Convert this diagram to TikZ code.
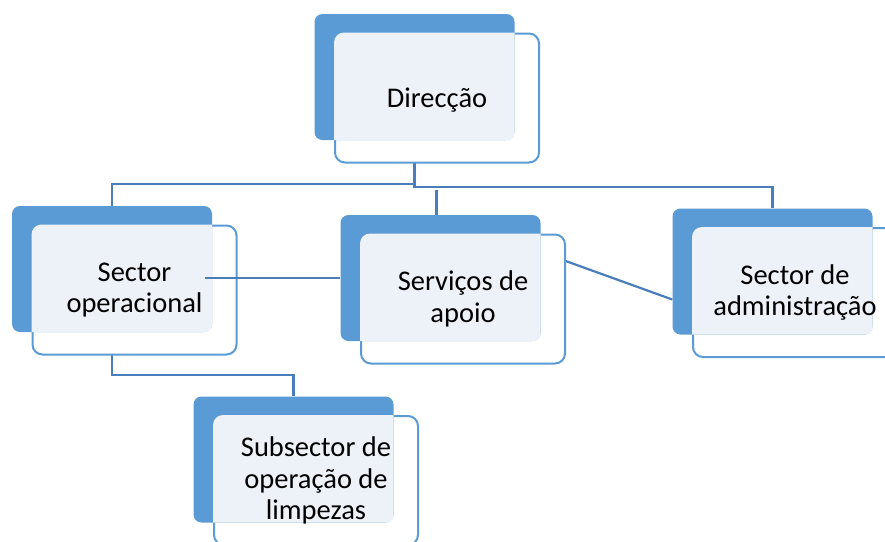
\documentclass[tikz,border=0pt]{standalone}
\usepackage{fontspec}
\setmainfont{Carlito}
\usetikzlibrary{calc,backgrounds}
\definecolor{azul}{HTML}{5B9BD5}
\definecolor{linha}{HTML}{4A7EBB}
\definecolor{claro}{HTML}{EDF2F9}
\tikzset{
	frente/.style={draw=azul,fill=white,line width=2pt,rounded corners=10pt,minimum width=204pt,minimum height=129pt},
	fundo/.style={fill=azul,rounded corners=8pt,minimum width=200pt,minimum height=126pt},
	texto/.style={align=center,font=\fontsize{28.5}{31.5}\selectfont,text=black},
	ligacao/.style={draw=linha,line width=2.2pt}
}
\begin{document}
\begin{tikzpicture}[x=1pt,y=-1pt]
	\path[use as bounding box](0,0) rectangle (885,541);\clip(0,0) rectangle (885,541);
	% Direccao
	\node[frente](dir) at (437,98){};\node[fundo](dirF) at ($(dir)+(-22.5,-21)$){};
	\begin{scope}\clip[rounded corners=8pt](dirF.south west) rectangle (dirF.north east);\fill[claro,rounded corners=10pt](dir.south west) rectangle (dir.north east);\end{scope}
	\node[texto](dirT) at (437,100){Direcção};
	% Sector operacional
	\node[frente](sop) at (134.5,290){};\node[fundo](sopF) at ($(sop)+(-22.5,-21)$){};
	\begin{scope}\clip[rounded corners=8pt](sopF.south west) rectangle (sopF.north east);\fill[claro,rounded corners=10pt](sop.south west) rectangle (sop.north east);\end{scope}
	\node[texto](sopT) at (sop){Sector\\operacional};
	% Servicos de apoio
	\node[frente](serv) at (463,299){};\node[fundo](servF) at ($(serv)+(-22.5,-21)$){};
	\begin{scope}\clip[rounded corners=8pt](servF.south west) rectangle (servF.north east);\fill[claro,rounded corners=10pt](serv.south west) rectangle (serv.north east);\end{scope}
	\node[texto](servT) at (serv){Serviços de\\apoio};
	% Sector de administracao
	\node[frente](adm) at (795,292.5){};\node[fundo](admF) at ($(adm)+(-22.5,-21)$){};
	\begin{scope}\clip[rounded corners=8pt](admF.south west) rectangle (admF.north east);\fill[claro,rounded corners=10pt](adm.south west) rectangle (adm.north east);\end{scope}
	\node[texto](admT) at (adm){Sector de\\administração};
	% Subsector
	\node[frente](sub) at (316,480.5){};\node[fundo](subF) at ($(sub)+(-22.5,-21)$){};
	\begin{scope}\clip[rounded corners=8pt](subF.south west) rectangle (subF.north east);\fill[claro,rounded corners=10pt](sub.south west) rectangle (sub.north east);\end{scope}
	\node[texto](subT) at (sub){Subsector de\\operação de\\limpezas};
	% ligacoes
	\coordinate(h1) at (0,184);\coordinate(h2) at (0,187);\coordinate(h3) at (0,190);\coordinate(c1) at (0,375);
	\begin{scope}[on background layer]
	\draw[ligacao](dirF.south)--(dirF.south |- h2)--(admF.north |- h2)--(admF.north);
	\draw[ligacao](dirF.south |- h1)-|(sopF.north);
	\draw[ligacao]([xshift=-4pt]servF.north |- h3)--([xshift=-4pt]servF.north);
	\draw[ligacao](sopF.south)--(sopF.south |- c1)-|(subF.north);
	\draw[ligacao]([yshift=26pt]servF.east)--([yshift=-28pt]admF.west);
	\end{scope}
	\draw[ligacao]([xshift=-7pt]sopF.east |- servF.west)--(servF.west);
\end{tikzpicture}
\end{document}
